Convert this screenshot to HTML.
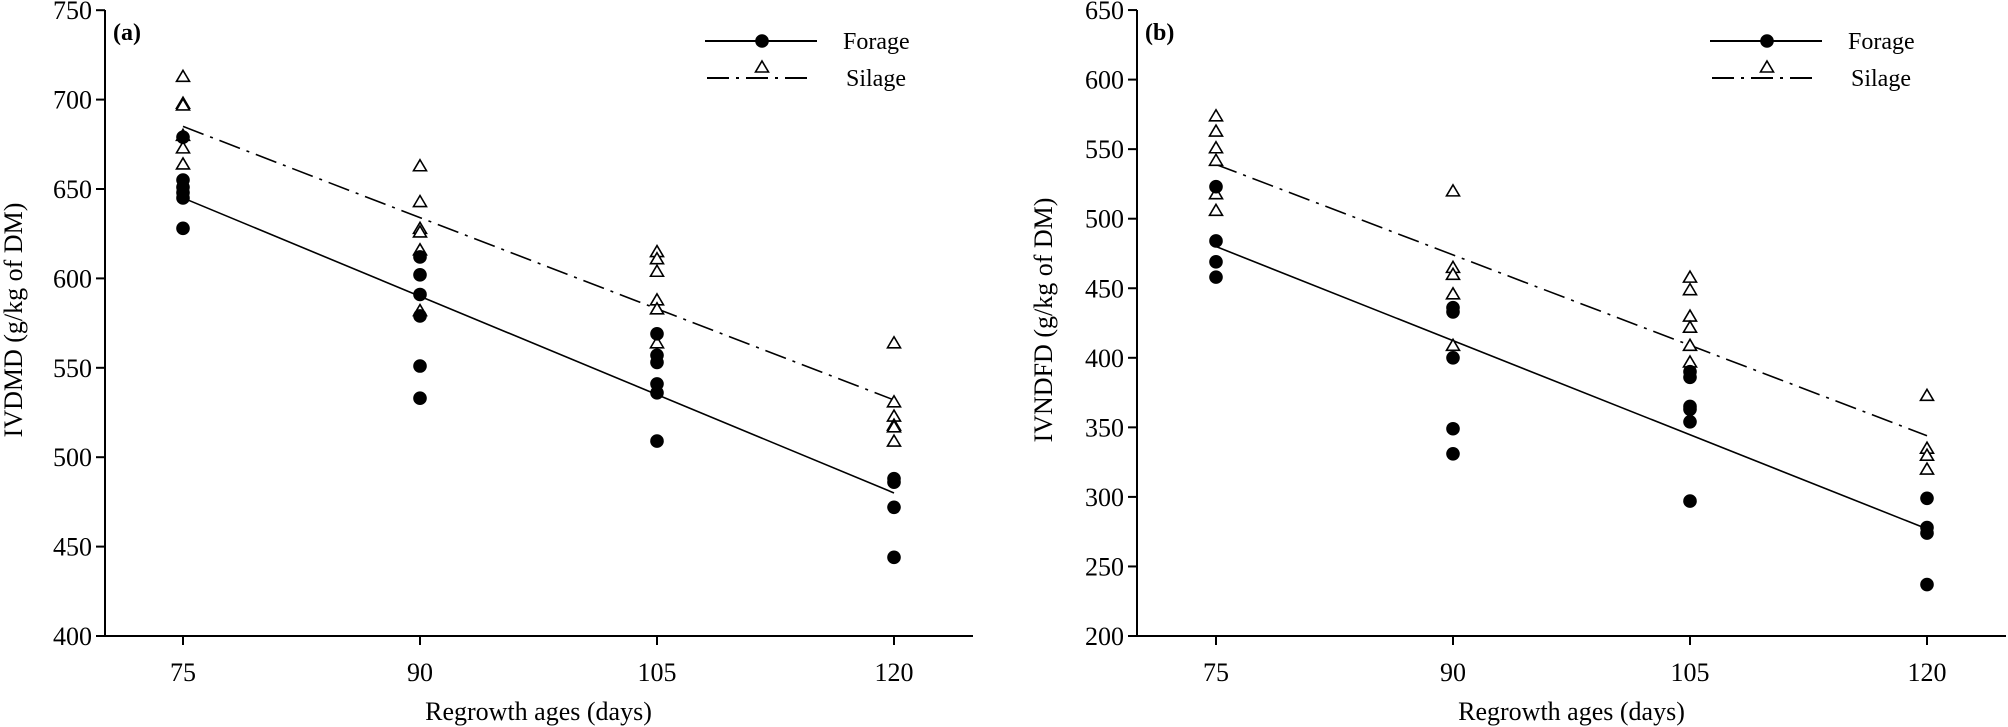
<!DOCTYPE html>
<html><head><meta charset="utf-8"><style>
html,body{margin:0;padding:0;background:#fff;}
svg{display:block;font-family:"Liberation Serif",serif;}
</style></head><body>
<svg width="2008" height="727" viewBox="0 0 2008 727" xmlns="http://www.w3.org/2000/svg">
<defs>
<path id="tri" d="M0,-6 L6.5,5 L-6.5,5 Z" fill="#fff" stroke="#000" stroke-width="1.6"/>
<circle id="dot" r="6.8" fill="#000"/>
</defs>
<g id="pa"></g>
<g id="pb"></g>
<script>
<![CDATA[
function build(gid, o){
  var g=document.getElementById(gid), s='';
  var X=function(v){return o.x75+(v-75)/15*237;};
  var Y=function(v){return 636-(v-o.ymin)/o.step*o.pix;};
  s+='<line x1="'+o.ax+'" y1="10" x2="'+o.ax+'" y2="637" stroke="#000" stroke-width="2"/>';
  s+='<line x1="'+(o.ax-1)+'" y1="636" x2="'+o.axr+'" y2="636" stroke="#000" stroke-width="2"/>';
  for(var v=o.ymin; v<=o.ymax; v+=o.step){
    var y=Y(v);
    s+='<line x1="'+(o.ax-9)+'" y1="'+y+'" x2="'+o.ax+'" y2="'+y+'" stroke="#000" stroke-width="2"/>';
    s+='<text x="'+(o.ax-13)+'" y="'+(y+9)+'" font-size="26" text-anchor="end">'+v+'</text>';
  }
  [75,90,105,120].forEach(function(v){
    var x=X(v);
    s+='<line x1="'+x+'" y1="636" x2="'+x+'" y2="645" stroke="#000" stroke-width="2"/>';
    s+='<text x="'+x+'" y="681" font-size="26" text-anchor="middle">'+v+'</text>';
  });
  s+='<text x="'+X(97.5)+'" y="720" font-size="26" text-anchor="middle">Regrowth ages (days)</text>';
  s+='<text transform="translate('+o.ylx+',320) rotate(-90)" font-size="26" text-anchor="middle">'+o.ylab+'</text>';
  s+='<text x="'+(o.ax+8)+'" y="40" font-size="24" font-weight="bold">'+o.tag+'</text>';
  // lines
  s+='<line x1="'+X(75)+'" y1="'+Y(o.fl[0])+'" x2="'+X(120)+'" y2="'+Y(o.fl[1])+'" stroke="#000" stroke-width="1.6"/>';
  s+='<line x1="'+X(75)+'" y1="'+Y(o.sl[0])+'" x2="'+X(120)+'" y2="'+Y(o.sl[1])+'" stroke="#000" stroke-width="1.6" stroke-dasharray="22,7,3,7"/>';
  var ages=[75,90,105,120];
  for(var i=0;i<4;i++){
    o.s[i].forEach(function(v){s+='<use href="#tri" x="'+X(ages[i])+'" y="'+Y(v)+'"/>';});
    o.f[i].forEach(function(v){s+='<use href="#dot" x="'+X(ages[i])+'" y="'+Y(v)+'"/>';});
  }
  // legend
  var L=o.lx;
  s+='<line x1="'+L+'" y1="41" x2="'+(L+112)+'" y2="41" stroke="#000" stroke-width="2"/>';
  s+='<use href="#dot" x="'+(L+57)+'" y="41"/>';
  s+='<text x="'+(L+138)+'" y="49" font-size="24">Forage</text>';
  s+='<line x1="'+(L+2)+'" y1="78" x2="'+(L+108)+'" y2="78" stroke="#000" stroke-width="2" stroke-dasharray="22,7,3,7"/>';
  s+='<use href="#tri" x="'+(L+57)+'" y="67"/>';
  s+='<text x="'+(L+141)+'" y="86" font-size="24">Silage</text>';
  g.innerHTML=s;
}
build('pa',{ax:105,axr:973,x75:183,ymin:400,ymax:750,step:50,pix:89.4,ylx:22,ylab:'IVDMD (g/kg of DM)',tag:'(a)',lx:705,
 fl:[645,480],sl:[685,532],
 f:[[679,655,651,648,645,628],[612,602,591,579,551,533],[569,557,553,541,536,509],[488,486,472,444]],
 s:[[713,698,697,680,673,664],[663,643,628,626,616,582],[615,611,604,588,583,564],[564,531,523,518,517,509]]});
build('pb',{ax:1137,axr:2006,x75:1216,ymin:200,ymax:650,step:50,pix:69.55,ylx:1052,ylab:'IVNDFD (g/kg of DM)',tag:'(b)',lx:1710,
 fl:[480,277],sl:[539,344],
 f:[[523,484,469,458],[436,433,400,349,331],[390,386,365,363,354,297],[299,278,274,237]],
 s:[[574,563,551,542,518,506],[520,465,460,446,409],[458,449,430,422,409,397],[373,335,330,320]]});
]]>
</script>
</svg>
</body></html>
